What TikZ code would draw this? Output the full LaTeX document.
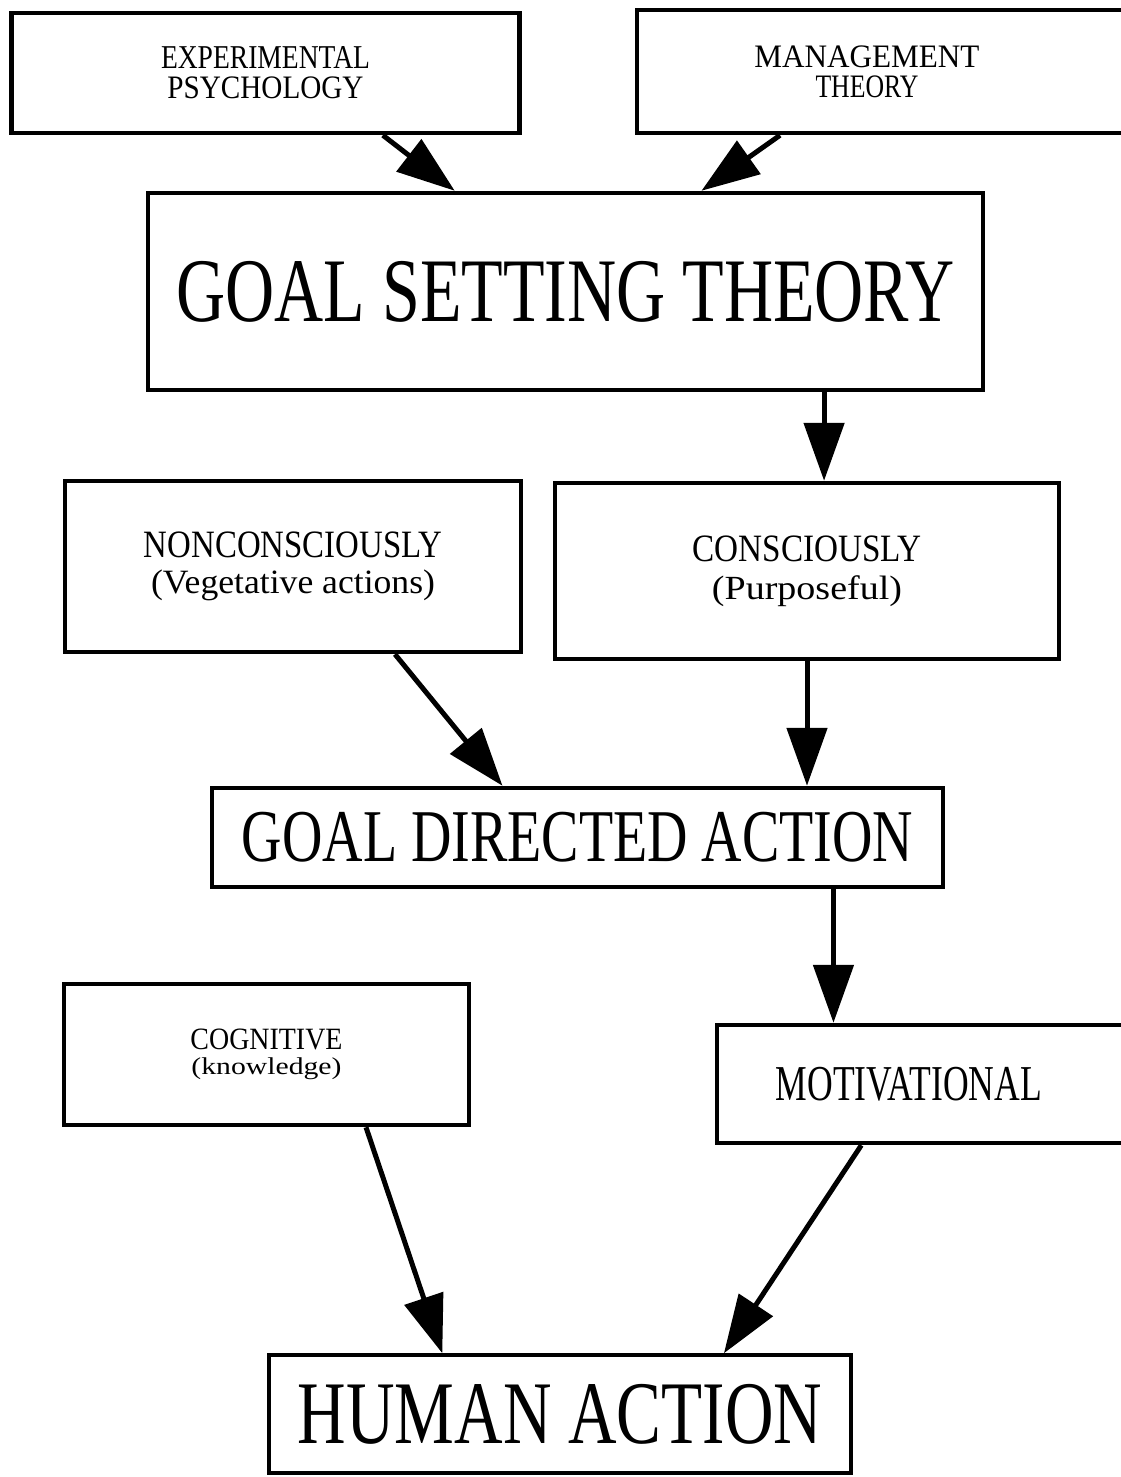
\documentclass[tikz,border=0pt]{standalone}
\usepackage{fontspec}
\setmainfont{Liberation Serif}
\usepackage{graphicx}
\usetikzlibrary{arrows.meta,calc}
\newcommand{\fitline}[3]{\resizebox*{#1pt}{#2pt}{#3}}
\tikzset{
  box/.style={draw, rectangle, line width=4.5pt, inner sep=0pt, align=center},
  arr/.style={line width=5pt, -{Triangle[length=58pt,width=40pt]}}
}
\begin{document}
\begin{tikzpicture}[x=1pt,y=-1pt]
\useasboundingbox (0,0) rectangle (1120,1477);
\fill[white] (0,0) rectangle (1120,1477);

\node[box, minimum width=508pt, minimum height=120pt, font=\fontsize{10}{30}\selectfont] (ep) at (265.5,73)
  {\fitline{209}{22}{EXPERIMENTAL}\\\fitline{196}{22}{PSYCHOLOGY}};
\node[box, minimum width=493pt, minimum height=123pt, font=\fontsize{10}{30}\selectfont] (mt) at (883.5,71.5)
  {\fitline{225}{22}{MANAGEMENT}\rule{33pt}{0pt}\\\fitline{103}{22}{THEORY}\rule{33pt}{0pt}};
\node[box, minimum width=835pt, minimum height=197pt] (gst) at (565.5,291.5)
  {\fitline{778}{61}{GOAL SETTING THEORY}};
\node[box, minimum width=456pt, minimum height=171pt, font=\fontsize{10}{36}\selectfont] (nc) at (293,566.5)
  {\fitline{298}{26}{NONCONSCIOUSLY}\\\fitline{284}{31}{(Vegetative actions)}};
\node[box, minimum width=504pt, minimum height=176pt, font=\fontsize{10}{38}\selectfont] (cs) at (807,571)
  {\fitline{229}{26}{CONSCIOUSLY}\\\fitline{190}{31}{(Purposeful)}};
\node[box, minimum width=731pt, minimum height=99pt] (gda) at (577.5,837.5)
  {\fitline{671}{50}{GOAL DIRECTED ACTION}};
\node[box, minimum width=405pt, minimum height=141pt, font=\fontsize{10}{25}\selectfont] (cg) at (266.5,1054.5)
  {\fitline{152}{21}{COGNITIVE}\\\fitline{150}{22}{(knowledge)}};
\node[box, minimum width=413pt, minimum height=118pt] (mo) at (923.5,1084)
  {\fitline{266}{34}{MOTIVATIONAL}\rule{29pt}{0pt}};
\node[box, line width=3.5pt, minimum width=582pt, minimum height=118pt] (ha) at (560,1414)
  {\fitline{524}{60}{HUMAN ACTION}};

\coordinate (a1s) at ($(ep.south west)!0.729!(ep.south east)$);
\coordinate (a1e) at ($(gst.north west)!0.368!(gst.north east)$);
\draw[arr] (a1s) -- (a1e);

\coordinate (a2s) at ($(mt.south west)!0.292!(mt.south east)$);
\coordinate (a2e) at ($(gst.north west)!0.662!(gst.north east)$);
\draw[arr] (a2s) -- (a2e);

\coordinate (a3s) at ($(gst.south west)!0.808!(gst.south east)$);
\draw[arr] (a3s) -- (a3s |- cs.north);

\coordinate (a4s) at ($(nc.south west)!0.7215!(nc.south east)$);
\coordinate (a4e) at ($(gda.north west)!0.398!(gda.north east)$);
\draw[arr] (a4s) -- (a4e);

\draw[arr] (cs.south) -- (cs.south |- gda.north);

\coordinate (a6s) at ($(gda.south west)!0.848!(gda.south east)$);
\draw[arr] (a6s) -- (a6s |- mo.north);

\coordinate (a7s) at ($(cg.south west)!0.743!(cg.south east)$);
\coordinate (a7e) at ($(ha.north west)!0.299!(ha.north east)$);
\draw[arr] (a7s) -- (a7e);

\coordinate (a8s) at ($(mo.south west)!0.351!(mo.south east)$);
\coordinate (a8e) at ($(ha.north west)!0.78!(ha.north east)$);
\draw[arr] (a8s) -- (a8e);
\end{tikzpicture}
\end{document}
